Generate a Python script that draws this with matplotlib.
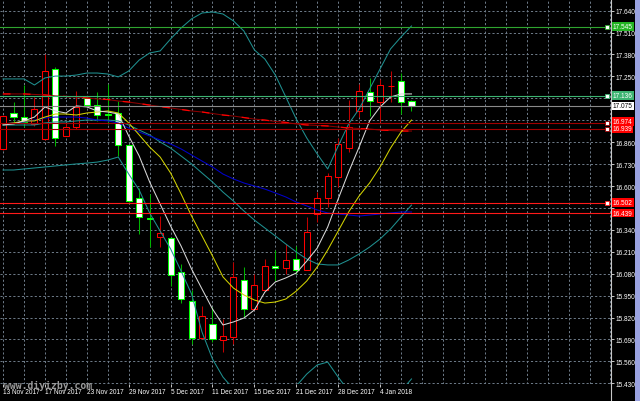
import matplotlib
matplotlib.use('Agg')
import matplotlib.pyplot as plt
from matplotlib.patches import Rectangle
from matplotlib.lines import Line2D
from matplotlib import font_manager
import matplotlib.transforms as mtransforms

# ---------------- data ----------------
date_labels = ["13 Nov 2017", "17 Nov 2017", "23 Nov 2017", "29 Nov 2017", "5 Dec 2017",
               "11 Dec 2017", "15 Dec 2017", "21 Dec 2017", "28 Dec 2017", "4 Jan 2018"]
date_label_bars = [0, 4, 8, 12, 16, 20, 24, 28, 32, 36]

opens = [16.820, 17.032, 17.008, 16.967, 16.879, 17.294, 16.899, 16.949, 17.120, 17.081,
         17.030, 17.032, 16.845, 16.529, 16.409, 16.296, 16.290, 16.088, 15.917, 15.697,
         15.782, 15.689, 15.703, 16.045, 15.871, 15.983, 16.124, 16.112, 16.167, 16.104,
         16.434, 16.527, 16.652, 16.824, 17.047, 17.156, 17.097, 17.192, 17.225, 17.103]
highs = [17.024, 17.099, 17.199, 17.130, 17.383, 17.306, 16.974, 17.166, 17.134, 17.156,
         17.205, 17.106, 16.850, 16.587, 16.553, 16.424, 16.298, 16.137, 15.983, 15.887,
         15.884, 15.811, 16.148, 16.118, 16.078, 16.167, 16.221, 16.256, 16.246, 16.415,
         16.563, 16.677, 16.885, 17.110, 17.205, 17.239, 17.235, 17.281, 17.271, 17.110]
lows = [16.814, 16.968, 16.950, 16.956, 16.873, 16.838, 16.897, 16.938, 17.068, 16.988,
        16.968, 16.780, 16.505, 16.316, 16.237, 16.240, 16.006, 15.906, 15.663, 15.693,
        15.675, 15.614, 15.663, 15.822, 15.865, 15.977, 16.039, 16.078, 16.078, 16.102,
        16.385, 16.474, 16.593, 16.800, 17.008, 17.018, 16.978, 17.097, 17.027, 17.047]
closes = [17.018, 17.011, 16.982, 17.057, 17.282, 16.885, 16.948, 17.068, 17.083, 17.024,
          17.024, 16.845, 16.510, 16.418, 16.403, 16.320, 16.072, 15.930, 15.697, 15.827,
          15.693, 15.709, 16.059, 15.871, 16.015, 16.128, 16.112, 16.163, 16.102, 16.326,
          16.527, 16.658, 16.850, 16.948, 17.166, 17.103, 17.199, 17.196, 17.097, 17.075]

ma_fast = [16.962, 16.968, 16.986, 17.009, 17.069, 17.045, 17.033, 17.075, 17.069, 17.045,
           17.039, 17.027, 16.897, 16.778, 16.624, 16.493, 16.363, 16.244, 16.108, 15.989,
           15.871, 15.776, 15.794, 15.817, 15.865, 15.971, 16.031, 16.055, 16.084, 16.155,
           16.232, 16.357, 16.523, 16.683, 16.831, 16.986, 17.069, 17.128, 17.146, 17.146]
ma_mid = [16.968, 16.974, 16.986, 16.986, 17.009, 17.027, 17.027, 17.021, 17.033, 17.039,
          17.045, 17.033, 16.974, 16.903, 16.831, 16.772, 16.677, 16.553, 16.422, 16.304,
          16.185, 16.061, 15.995, 15.954, 15.924, 15.906, 15.912, 15.930, 15.977, 16.037,
          16.120, 16.221, 16.333, 16.446, 16.541, 16.618, 16.713, 16.825, 16.920, 16.991]
ma_slow = [16.968, 16.974, 16.980, 16.991, 17.003, 17.009, 17.009, 17.009, 17.003, 16.991,
           16.986, 16.974, 16.944, 16.920, 16.897, 16.873, 16.849, 16.820, 16.784, 16.748,
           16.713, 16.671, 16.642, 16.618, 16.600, 16.582, 16.559, 16.535, 16.505, 16.482,
           16.458, 16.440, 16.434, 16.428, 16.422, 16.428, 16.434, 16.440, 16.446, 16.446]
ma_long = [17.146, 17.146, 17.146, 17.143, 17.140, 17.134, 17.131, 17.128, 17.122, 17.116,
           17.113, 17.104, 17.098, 17.089, 17.080, 17.071, 17.063, 17.054, 17.045, 17.039,
           17.030, 17.021, 17.015, 17.006, 16.997, 16.991, 16.983, 16.977, 16.968, 16.962,
           16.959, 16.956, 16.950, 16.944, 16.941, 16.938, 16.932, 16.929, 16.926, 16.926]
bb_upper = [17.235, 17.235, 17.235, 17.199, 17.241, 17.252, 17.252, 17.258, 17.270, 17.270,
            17.264, 17.247, 17.282, 17.347, 17.389, 17.401, 17.472, 17.537, 17.591, 17.626,
            17.632, 17.620, 17.579, 17.519, 17.407, 17.353, 17.258, 17.128, 16.997, 16.885,
            16.790, 16.701, 16.837, 16.968, 17.057, 17.175, 17.294, 17.413, 17.484, 17.549]
bb_middle = [16.962, 16.962, 16.962, 16.962, 16.974, 16.980, 16.980, 16.986, 16.991, 16.991,
             16.991, 16.986, 16.962, 16.932, 16.903, 16.861, 16.825, 16.778, 16.731, 16.677,
             16.624, 16.564, 16.511, 16.452, 16.398, 16.351, 16.304, 16.256, 16.209, 16.167,
             16.138, 16.132, 16.132, 16.161, 16.197, 16.238, 16.286, 16.345, 16.416, 16.487]
bb_lower = [16.695, 16.695, 16.701, 16.707, 16.713, 16.719, 16.725, 16.731, 16.736, 16.742,
            16.754, 16.772, 16.671, 16.576, 16.440, 16.333, 16.227, 16.096, 15.960, 15.734,
            15.574, 15.467, 15.396, 15.367, 15.349, 15.337, 15.337, 15.367, 15.414, 15.485,
            15.539, 15.556, 15.467, 15.384, 15.337, 15.307, 15.290, 15.307, 15.384, 15.456]

level_prices = [17.545, 17.136, 17.075, 16.974, 16.939, 16.502, 16.439]
level_labels = ["17.545", "17.136", "17.075", "16.974", "16.939", "16.502", "16.439"]
level_line_colors = ["#2fa52f", "#3cb371", "#8a8a8a", "#a00000", "#a00000", "#ff1a1a", "#ff1a1a"]
level_box_colors = ["#22b422", "#3cb371", "#ffffff", "#ff0000", "#ff0000", "#ff0000", "#ff0000"]
level_text_colors = ["white", "white", "black", "white", "white", "white", "white"]
level_marker = [True, True, False, True, True, True, False]

y_tick_values = [15.430, 15.560, 15.690, 15.820, 15.950, 16.080, 16.210, 16.340, 16.470,
                 16.600, 16.730, 16.860, 16.990, 17.120, 17.250, 17.380, 17.510, 17.640]

# ---------------- style ----------------
names = {f.name for f in font_manager.fontManager.ttflist}
label_font = 'Liberation Sans Narrow' if 'Liberation Sans Narrow' in names else 'Liberation Sans'
fs = 4.7
grid_color = '#6f7c8a'
dash = (0, (2.2, 2.2))

fig = plt.figure(figsize=(6.4, 4.02), dpi=100, facecolor='black')
W, H = 640.0, 402.0
ax = fig.add_axes([0, 17 / H, 611 / W, 385 / H])
ax.set_facecolor('black')
ax.set_axisbelow(True)
ax.set_xlim(-0.29, 58.05)
ax.set_ylim(15.426, 17.709)

n = len(opens)
xs = list(range(n))

# vertical grid every 2 bars
for gx in range(0, 59, 2):
    ax.axvline(gx, color=grid_color, ls=dash, lw=0.7, zorder=0.5)
ax.set_yticks(y_tick_values)
ax.set_yticklabels([f"{v:.3f}" for v in y_tick_values])
ax.grid(axis='y', color=grid_color, ls=dash, lw=0.7)

# candles
bw = 0.58
for i in xs:
    o, h, l, c = opens[i], highs[i], lows[i], closes[i]
    up = c >= o
    wick_c = '#c00000' if up else '#00b400'
    edge_c = '#ff0000' if up else '#00ff00'
    face_c = 'black' if up else 'white'
    ax.plot([i, i], [l, h], color=wick_c, lw=0.75, zorder=2, solid_capstyle='butt')
    bottom = min(o, c)
    height = max(abs(c - o), 0.002)
    ax.add_patch(Rectangle((i - bw / 2, bottom), bw, height, facecolor=face_c,
                           edgecolor=edge_c, lw=0.75, zorder=2.2))

# indicators
ax.plot(xs, bb_upper, color='#1f9090', lw=0.75, zorder=3)
ax.plot(xs, bb_middle, color='#1f9090', lw=0.75, zorder=3)
ax.plot(xs, bb_lower, color='#1f9090', lw=0.75, zorder=3)
ax.plot(xs, ma_slow, color='#0000cc', lw=0.75, zorder=3)
ax.plot(xs, ma_long, color='#8b0000', lw=0.75, zorder=3)
ax.plot(xs, ma_long, color='#ff0000', lw=0.9, ls=(0, (6, 10)), zorder=3.1)
ax.plot(xs, ma_mid, color='#d2d200', lw=0.75, zorder=3.2)
ax.plot(xs, ma_fast, color='#d8d8d8', lw=0.75, zorder=3.3)

# horizontal levels
xmax = ax.get_xlim()[1]
for p, lc, mk in zip(level_prices, level_line_colors, level_marker):
    ax.axhline(p, color=lc, lw=0.8, zorder=4)
    if mk:
        ax.plot([xmax - 0.4], [p], marker='s', ms=2.3, mfc='white', mec=lc, mew=0.6,
                zorder=4.5, clip_on=False)

# price labels on the axis: stack so boxes do not overlap (upper one is pushed up)
gap = 7.6  # pixels
disp = [ax.transData.transform((0, p))[1] for p in level_prices]
order = sorted(range(len(disp)), key=lambda k: disp[k])  # bottom to top
for a, b in zip(order[:-1], order[1:]):
    if disp[b] - disp[a] < gap:
        disp[b] = disp[a] + gap
inv = ax.transData.inverted()
blend = mtransforms.blended_transform_factory(ax.transAxes, ax.transData)
for d, lab, bc, tc in zip(disp, level_labels, level_box_colors, level_text_colors):
    yy = inv.transform((0, d))[1]
    ax.text(1.0 + 2.0 / 611, yy, lab, transform=blend, ha='left', va='center',
            fontsize=fs, family=label_font, color=tc, zorder=6,
            bbox=dict(boxstyle='square,pad=0.12', fc=bc, ec='none'))

# axes styling
for s in ['top', 'left', 'bottom']:
    ax.spines[s].set_visible(False)
ax.spines['right'].set_color('#c8c8c8')
ax.spines['right'].set_linewidth(0.8)
ax.yaxis.tick_right()
ax.tick_params(axis='y', right=True, left=False, labelright=True, labelleft=False,
               length=2.2, width=0.7, color='#c8c8c8', labelcolor='white', labelsize=fs, pad=1.2)
# labels fully covered by the price boxes are not drawn
covered = [17.120, 16.990, 16.470]
for t, v in zip(ax.get_yticklabels(), y_tick_values):
    t.set_family(label_font)
    if any(abs(v - c) < 1e-6 for c in covered):
        t.set_visible(False)

ax.set_xticks(date_label_bars)
ax.set_xticklabels(date_labels)
ax.tick_params(axis='x', bottom=True, length=2.2, width=0.7, color='#c8c8c8',
               labelcolor='white', labelsize=fs, pad=0.8)
for t in ax.get_xticklabels():
    t.set_ha('left')
    t.set_family(label_font)

# frame extension and scroll stripe
fig.add_artist(Line2D([611 / W, 611 / W], [0, 17 / H], color='#c8c8c8', lw=0.8,
                      transform=fig.transFigure))
fig.add_artist(Rectangle((635 / W, 0), 5 / W, 1, transform=fig.transFigure,
                         facecolor='#9aa2e0', edgecolor='none'))

fig.text(4 / W, 1 - 385.5 / H, 'www.diyizby.com', family='DejaVu Sans Mono',
         weight='bold', color='#9a9a9a', fontsize=7.0, ha='left', va='center')

fig.savefig('out.png', dpi=100, facecolor='black')
